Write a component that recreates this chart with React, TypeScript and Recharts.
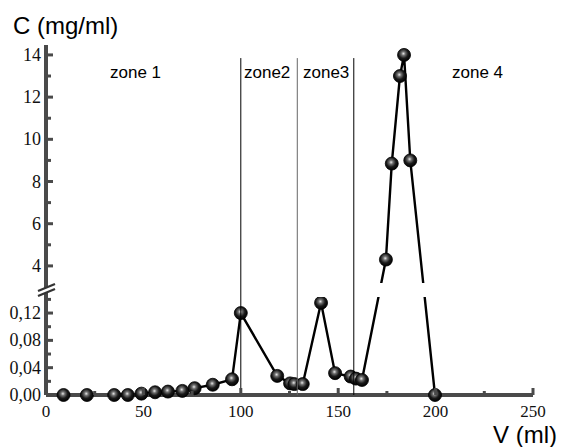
import { LineChart, Line, XAxis, YAxis, ReferenceLine, ReferenceArea } from "recharts";

// elution profile: volume (ml) and concentration (mg/ml)
const volume = [9, 21, 35, 42, 49, 56, 62.6, 70, 76.3, 85.6, 95.5, 100, 118.7, 125.3, 127.5, 131.8, 141.2, 148.4, 156.4, 159.1, 162.2, 174.5, 177.5, 181.7, 183.8, 187, 199.7];
const concentration = [0, 0, 0, 0, 0.002, 0.004, 0.005, 0.006, 0.01, 0.015, 0.023, 0.12, 0.028, 0.017, 0.016, 0.016, 0.135, 0.032, 0.027, 0.024, 0.022, 4.3, 8.85, 13, 14, 9, 0];

const zoneBounds = [100, 129, 158];
const zoneNames = ["zone 1", "zone2", "zone3", "zone 4"];

const xMajor = [0, 50, 100, 150, 200, 250];
const xMinor = [25, 75, 125, 175, 225];
const lowMajor = [0, 0.04, 0.08, 0.12];
const lowMinor = [0.02, 0.06, 0.1, 0.14];
const highMajor = [4, 6, 8, 10, 12, 14];
const highMinor = [5, 7, 9, 11, 13];

// broken y axis: lower part 0..LOW_TOP, upper part HIGH_BOTTOM..HIGH_TOP
const LOW_TOP = 0.1435;
const LOW_H = 98;
const GAP_H = 14;
const HIGH_BOTTOM = 3.19;
const HIGH_TOP = 14.47;
const HIGH_H = 238;
const TOTAL = LOW_H + GAP_H + HIGH_H;

const toAxis = (c: number) =>
    c <= LOW_TOP
        ? (c / LOW_TOP) * LOW_H
        : LOW_H + GAP_H + ((c - HIGH_BOTTOM) / (HIGH_TOP - HIGH_BOTTOM)) * HIGH_H;

const rows = volume.map((v, i) => ({ v, c: toAxis(concentration[i]) }));

const yTicks = [
    ...lowMajor.map((v) => ({ pos: toAxis(v), label: v.toFixed(2).replace(".", ",") })),
    ...lowMinor.map((v) => ({ pos: toAxis(v), label: null as string | null })),
    ...highMajor.map((v) => ({ pos: toAxis(v), label: String(v) })),
    ...highMinor.map((v) => ({ pos: toAxis(v), label: null as string | null })),
];

const AXIS = "#4a4a4a";
const serif = "'Liberation Serif', 'Times New Roman', serif";
const sans = "'Liberation Sans', Arial, sans-serif";

const YTick = (props: any) => {
    const { x, y, payload } = props;
    const t = yTicks.find((k) => Math.abs(k.pos - payload.value) < 0.01);
    const major = t && t.label != null;
    return (
        <g>
            <line x1={x} x2={x + (major ? 7 : 5)} y1={y} y2={y} stroke={AXIS} strokeWidth={3} />
            {major && (
                <text x={x - 5} y={y + 6} textAnchor="end" style={{ fontFamily: serif, fontSize: 18 }} fill="#111">
                    {t!.label}
                </text>
            )}
        </g>
    );
};

const XTick = (props: any) => {
    const { x, y, payload } = props;
    const major = xMajor.includes(payload.value);
    return (
        <g>
            <line x1={x} x2={x} y1={y} y2={y - (major ? 7 : 4)} stroke={AXIS} strokeWidth={3} />
            {major && (
                <text x={x} y={y + 22} textAnchor="middle" style={{ fontFamily: serif, fontSize: 17 }} fill="#111">
                    {payload.value}
                </text>
            )}
        </g>
    );
};

const BallDot = (p: any) => (
    <circle key={`dot-${p.index}`} cx={p.cx} cy={p.cy} r={6.5} fill="url(#ball)" stroke="#000" strokeWidth={0.8} />
);

export default function App() {
    return (
        <div style={{ position: "absolute", left: 0, top: 0, width: 568, height: 447, background: "#fff" }}>
            <svg width={0} height={0} style={{ position: "absolute" }}>
                <defs>
                    <radialGradient id="ball" cx="0.45" cy="0.4" r="0.6">
                        <stop offset="0%" stopColor="#e8e8e8" />
                        <stop offset="25%" stopColor="#707070" />
                        <stop offset="60%" stopColor="#1a1a1a" />
                        <stop offset="100%" stopColor="#000" />
                    </radialGradient>
                </defs>
            </svg>
            <LineChart width={568} height={447} data={rows} margin={{ top: 45, right: 35, bottom: 22, left: 0 }}>
                <XAxis
                    dataKey="v"
                    type="number"
                    domain={[0, 250]}
                    ticks={[...xMajor, ...xMinor].sort((a, b) => a - b)}
                    interval={0}
                    tick={XTick}
                    tickLine={false}
                    tickSize={0}
                    tickMargin={0}
                    height={30}
                    axisLine={{ stroke: AXIS, strokeWidth: 4 }}
                />
                <YAxis
                    type="number"
                    domain={[0, TOTAL]}
                    ticks={yTicks.map((t) => t.pos).sort((a, b) => a - b)}
                    interval={0}
                    tick={YTick}
                    tickLine={false}
                    tickSize={0}
                    tickMargin={0}
                    width={46}
                    axisLine={{ stroke: AXIS, strokeWidth: 4 }}
                />
                <Line
                    dataKey="c"
                    type="linear"
                    stroke="#000"
                    strokeWidth={2.4}
                    dot={BallDot}
                    activeDot={false}
                    isAnimationActive={false}
                />
                <ReferenceArea
                    x1={1.5}
                    x2={250}
                    y1={LOW_H}
                    y2={LOW_H + GAP_H}
                    fill="#fff"
                    fillOpacity={1}
                    stroke="none"
                    {...({ zIndex: 1000 } as any)}
                />
                {zoneBounds.map((b, i) => (
                    <ReferenceLine
                        key={`zone-${i}`}
                        segment={[{ x: b, y: 0 }, { x: b, y: toAxis(13.85) }]}
                        stroke={i === 1 ? "#666" : "#000"}
                        strokeWidth={1}
                        {...({ zIndex: 1100 } as any)}
                    />
                ))}
            </LineChart>
            <svg width={568} height={447} style={{ position: "absolute", left: 0, top: 0, pointerEvents: "none" }}>
                <polygon points="40,290 54,284 54,289 40,295" fill="#fff" />
                <line x1={38} y1={291} x2={55} y2={284} stroke="#333" strokeWidth={2.2} />
                <line x1={38} y1={296} x2={55} y2={289} stroke="#333" strokeWidth={2.2} />
                <text x={13} y={34} style={{ fontFamily: sans, fontSize: 24 }} fill="#000">C (mg/ml)</text>
                <text x={557} y={443} textAnchor="end" style={{ fontFamily: sans, fontSize: 24 }} fill="#000">V (ml)</text>
                <text x={110} y={78} style={{ fontFamily: sans, fontSize: 17 }} fill="#000">{zoneNames[0]}</text>
                <text x={244} y={78} style={{ fontFamily: sans, fontSize: 17 }} fill="#000">{zoneNames[1]}</text>
                <text x={303} y={78} style={{ fontFamily: sans, fontSize: 17 }} fill="#000">{zoneNames[2]}</text>
                <text x={452} y={78} style={{ fontFamily: sans, fontSize: 17 }} fill="#000">{zoneNames[3]}</text>
            </svg>
        </div>
    );
}
